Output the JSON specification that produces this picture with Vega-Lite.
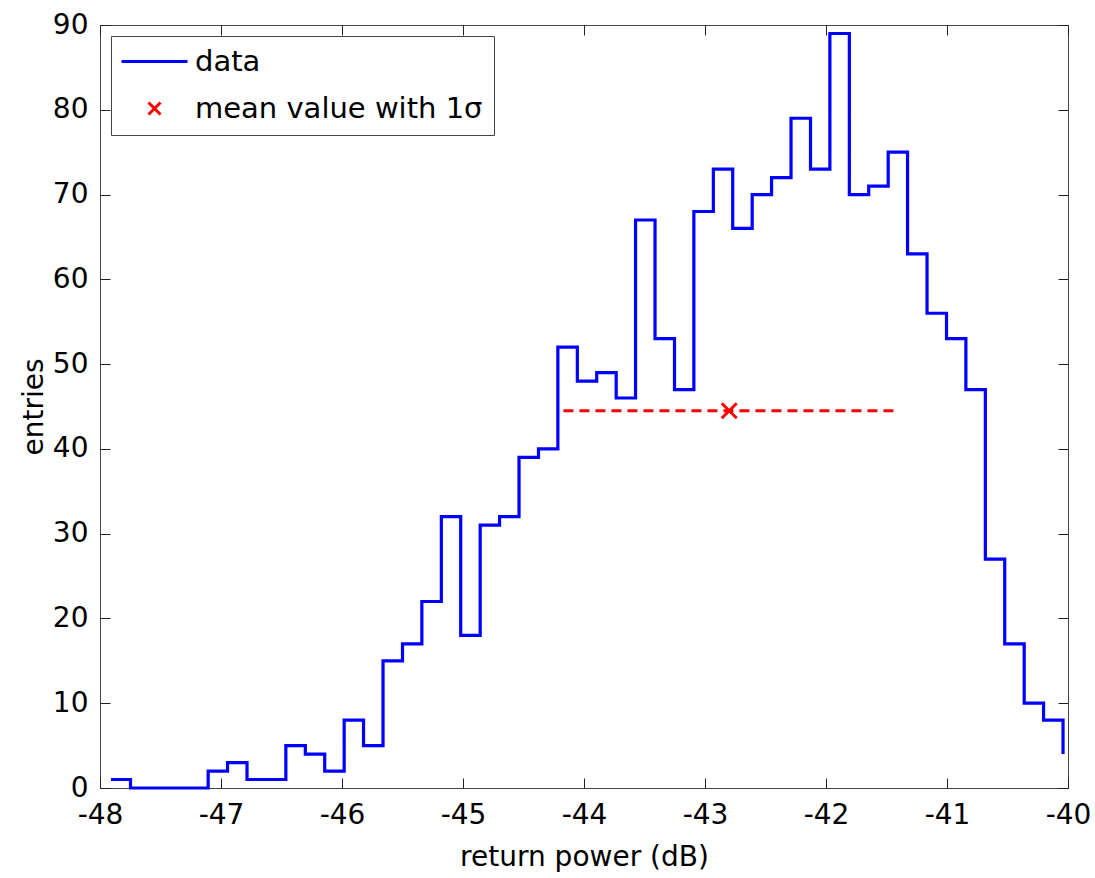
{
  "$schema": "https://vega.github.io/schema/vega-lite/v6.json",
  "width": 968,
  "height": 763,
  "autosize": "none",
  "padding": {"left": 100, "top": 25, "right": 27, "bottom": 90},
  "background": "white",
  "config": {
    "font": "DejaVu Sans",
    "view": {"stroke": "#444444", "strokeWidth": 1},
    "axis": {
      "grid": false,
      "domain": false,
      "tickColor": "#222222",
      "tickSize": -10,
      "tickWidth": 1,
      "labelFontSize": 28,
      "labelColor": "black",
      "titleFontSize": 28,
      "titleFontWeight": "normal",
      "titleColor": "black"
    }
  },
  "resolve": {"axis": {"x": "independent", "y": "independent"}},
  "layer": [
    {
      "data": {
        "values": [
          {"power": -47.909, "entries": 1, "series": "data"},
          {"power": -47.748, "entries": 0, "series": "data"},
          {"power": -47.588, "entries": 0, "series": "data"},
          {"power": -47.427, "entries": 0, "series": "data"},
          {"power": -47.267, "entries": 0, "series": "data"},
          {"power": -47.106, "entries": 2, "series": "data"},
          {"power": -46.946, "entries": 3, "series": "data"},
          {"power": -46.785, "entries": 1, "series": "data"},
          {"power": -46.624, "entries": 1, "series": "data"},
          {"power": -46.464, "entries": 5, "series": "data"},
          {"power": -46.303, "entries": 4, "series": "data"},
          {"power": -46.143, "entries": 2, "series": "data"},
          {"power": -45.982, "entries": 8, "series": "data"},
          {"power": -45.822, "entries": 5, "series": "data"},
          {"power": -45.661, "entries": 15, "series": "data"},
          {"power": -45.5, "entries": 17, "series": "data"},
          {"power": -45.34, "entries": 22, "series": "data"},
          {"power": -45.179, "entries": 32, "series": "data"},
          {"power": -45.019, "entries": 18, "series": "data"},
          {"power": -44.858, "entries": 31, "series": "data"},
          {"power": -44.698, "entries": 32, "series": "data"},
          {"power": -44.537, "entries": 39, "series": "data"},
          {"power": -44.376, "entries": 40, "series": "data"},
          {"power": -44.216, "entries": 52, "series": "data"},
          {"power": -44.055, "entries": 48, "series": "data"},
          {"power": -43.895, "entries": 49, "series": "data"},
          {"power": -43.734, "entries": 46, "series": "data"},
          {"power": -43.574, "entries": 67, "series": "data"},
          {"power": -43.413, "entries": 53, "series": "data"},
          {"power": -43.252, "entries": 47, "series": "data"},
          {"power": -43.092, "entries": 68, "series": "data"},
          {"power": -42.931, "entries": 73, "series": "data"},
          {"power": -42.771, "entries": 66, "series": "data"},
          {"power": -42.61, "entries": 70, "series": "data"},
          {"power": -42.45, "entries": 72, "series": "data"},
          {"power": -42.289, "entries": 79, "series": "data"},
          {"power": -42.128, "entries": 73, "series": "data"},
          {"power": -41.968, "entries": 89, "series": "data"},
          {"power": -41.807, "entries": 70, "series": "data"},
          {"power": -41.647, "entries": 71, "series": "data"},
          {"power": -41.486, "entries": 75, "series": "data"},
          {"power": -41.326, "entries": 63, "series": "data"},
          {"power": -41.165, "entries": 56, "series": "data"},
          {"power": -41.004, "entries": 53, "series": "data"},
          {"power": -40.844, "entries": 47, "series": "data"},
          {"power": -40.683, "entries": 27, "series": "data"},
          {"power": -40.523, "entries": 17, "series": "data"},
          {"power": -40.362, "entries": 10, "series": "data"},
          {"power": -40.202, "entries": 8, "series": "data"},
          {"power": -40.041, "entries": 4, "series": "data"}
        ]
      },
      "mark": {"type": "line", "interpolate": "step-after", "strokeWidth": 3.2},
      "encoding": {
        "x": {
          "field": "power",
          "type": "quantitative",
          "scale": {"domain": [-48, -40], "nice": false},
          "axis": {
            "orient": "bottom",
            "values": [-48, -47, -46, -45, -44, -43, -42, -41, -40],
            "labelExpr": "replace(datum.label, '−', '-')",
            "title": "return power (dB)",
            "labelFlush": false,
            "labelPadding": 23,
            "titlePadding": 14
          }
        },
        "y": {
          "field": "entries",
          "type": "quantitative",
          "scale": {"domain": [0, 90], "nice": false},
          "axis": {
            "orient": "left",
            "values": [0, 10, 20, 30, 40, 50, 60, 70, 80, 90],
            "title": "entries",
            "labelPadding": 22,
            "titlePadding": 4
          }
        },
        "color": {
          "field": "series",
          "type": "nominal",
          "scale": {"domain": ["data", "mean value with 1σ"], "range": ["#0000ff", "#ff0000"]},
          "legend": {
            "title": null,
            "orient": "top-left",
            "offset": 11,
            "padding": 11,
            "strokeColor": "#444444",
            "fillColor": "white",
            "cornerRadius": 0,
            "labelFontSize": 29,
            "labelColor": "black",
            "labelLimit": 600,
            "symbolSize": 400,
            "symbolStrokeWidth": 3,
            "symbolOffset": 18,
            "labelOffset": 26,
            "rowPadding": 17,
            "encode": {
              "symbols": {
                "update": {
                  "shape": {"signal": "datum.value === 'data' ? 'M-3.3,0L3.3,0' : 'M-0.6,-0.6L0.6,0.6M-0.6,0.6L0.6,-0.6'"},
                  "fill": {"value": "transparent"}
                }
              }
            }
          }
        }
      }
    },
    {
      "data": {"values": [{"lo": -44.17, "hi": -41.43, "level": 44.5}]},
      "mark": {"type": "rule", "color": "#ff0000", "strokeWidth": 3, "strokeDash": [10, 6]},
      "encoding": {
        "x": {
          "field": "lo",
          "type": "quantitative",
          "axis": {"orient": "top", "labels": false, "title": null, "values": [-48, -47, -46, -45, -44, -43, -42, -41, -40]}
        },
        "x2": {"field": "hi"},
        "y": {
          "field": "level",
          "type": "quantitative",
          "axis": {"orient": "right", "labels": false, "title": null, "values": [0, 10, 20, 30, 40, 50, 60, 70, 80, 90]}
        }
      }
    },
    {
      "data": {"values": [{"mean": -42.8, "level": 44.5, "series": "mean value with 1σ"}]},
      "mark": {"type": "point", "shape": "M-1,-1L1,1M-1,1L1,-1", "size": 225, "filled": false, "strokeWidth": 3, "opacity": 1},
      "encoding": {
        "x": {"field": "mean", "type": "quantitative", "axis": null},
        "y": {"field": "level", "type": "quantitative", "axis": null},
        "color": {"field": "series", "type": "nominal"}
      }
    }
  ]
}
